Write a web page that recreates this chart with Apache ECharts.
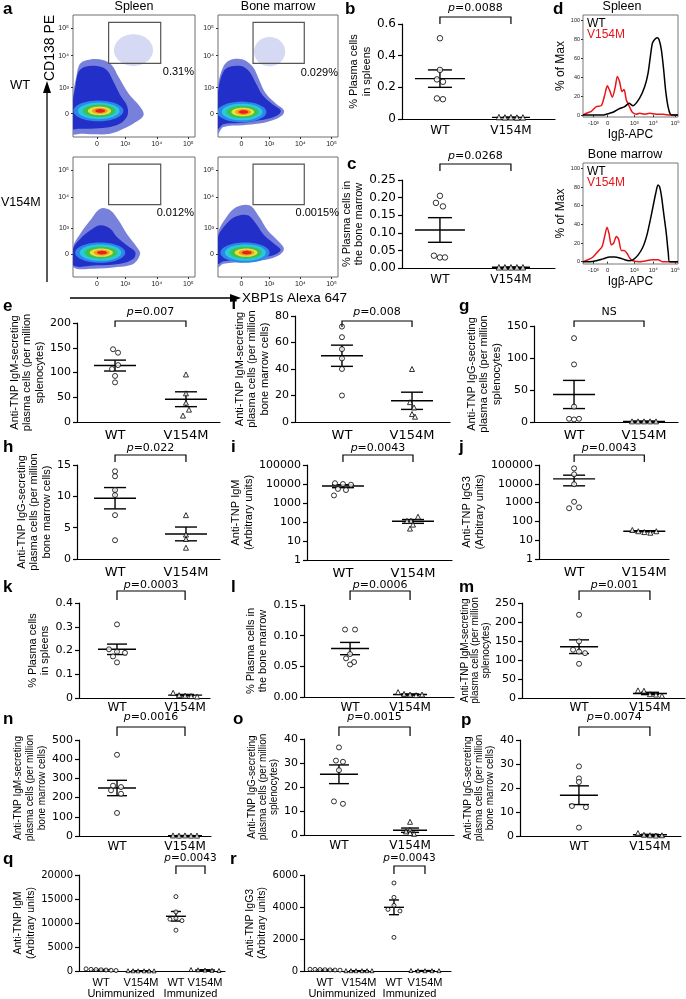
<!DOCTYPE html>
<html>
<head>
<meta charset="utf-8">
<title>Plasma cell figure</title>
<script src="https://cdn.jsdelivr.net/npm/echarts@6/dist/echarts.min.js"></script>
<style>
  html, body { margin: 0; padding: 0; background: #fff; }
  #chart { width: 686px; height: 999px; }
</style>
</head>
<body>
<div id="chart"></div>
<script>
// ---------------- values ----------------
const genotypes = ['WT', 'V154M']
const immunCats = ['WT', 'V154M', 'WT', 'V154M']
const immunGroups = ['Unimmunized', 'Immunized']

// b: % plasma cells in spleens
const bWT = [0.51, 0.31, 0.25, 0.235, 0.13, 0.125]
const bMut = [0.012, 0.01, 0.011, 0.009, 0.01]
const bMean = [0.255, 0.01]
const bSem = [0.055, 0.002]
// c: % plasma cells in bone marrow
const cWT = [0.205, 0.185, 0.175, 0.035, 0.03, 0.03]
const cMut = [0.002, 0.002, 0.002, 0.002, 0.002]
const cMean = [0.108, 0.002]
const cSem = [0.035, 0.0004]
// e: anti-TNP IgM ASC, spleen
const eWT = [147, 140, 115, 107, 93, 80]
const eMut = [96, 58, 39, 25, 13]
const eMean = [114, 46]
const eSem = [11, 15]
// f: anti-TNP IgM ASC, bone marrow
const fWT = [72, 64, 55, 48, 40, 20]
const fMut = [40, 15, 11, 6, 4]
const fMean = [50, 16]
const fSem = [8, 6.5]
// g: anti-TNP IgG ASC, spleen
const gWT = [131, 90, 24, 5, 4, 5]
const gMut = [1, 1, 1, 1, 1]
const gMean = [43, 1]
const gSem = [22, 0.3]
// h: anti-TNP IgG ASC, bone marrow
const hWT = [14, 13.2, 11, 10.2, 7, 3]
const hMut = [7, 3.9, 3.2, 1.8]
const hMean = [9.7, 4]
const hSem = [1.7, 1.1]
// i: anti-TNP IgM titre
const iWT = [11000, 10000, 9200, 5500, 4800, 2500]
const iMut = [190, 118, 115, 73, 45]
const iMean = [7800, 110]
const iSem = [1400, 25]
// j: anti-TNP IgG3 titre
const jWT = [66000, 32000, 9500, 1100, 500, 560]
const jMut = [35, 30, 27, 25, 30]
const jMean = [18300, 30]
const jSem = [10500, 2]
// k: % plasma cells in spleens (immunized)
const kWT = [0.31, 0.205, 0.195, 0.19, 0.175, 0.15]
const kMut = [0.022, 0.012, 0.01, 0.008, 0.006]
const kMean = [0.205, 0.012]
const kSem = [0.022, 0.003]
// l: % plasma cells in bone marrow (immunized)
const lWT = [0.11, 0.11, 0.07, 0.063, 0.057, 0.053]
const lMut = [0.008, 0.005, 0.004, 0.003, 0.004]
const lMean = [0.079, 0.004]
const lSem = [0.01, 0.001]
// m: anti-TNP IgM ASC, spleen (immunized)
const mWT = [219, 149, 127, 122, 118, 90]
const mMut = [20, 19, 10, 9, 6]
const mMean = [135, 12]
const mSem = [18, 3]
// n: anti-TNP IgM ASC, bone marrow (immunized)
const nWT = [423, 262, 255, 238, 220, 120]
const nMut = [3, 2, 3, 2, 2]
const nMean = [250, 2]
const nSem = [40, 0.5]
// o: anti-TNP IgG ASC, spleen (immunized)
const oWT = [36.5, 31, 30.5, 27, 14, 13]
const oMut = [5.5, 2.2, 1.5, 0.5, 0.8]
const oMean = [25.3, 2]
const oSem = [3.9, 0.9]
// p: anti-TNP IgG ASC, bone marrow (immunized)
const pWT = [29, 24, 22.5, 12.5, 12, 3.5]
const pMut = [1.2, 0.5, 0.3, 0.2, 0.3]
const pMean = [17, 0.5]
const pSem = [3.9, 0.2]
// q: anti-TNP IgM, unimmunized vs immunized
const qUnWT = [450, 350, 300, 250, 200, 150, 100]
const qUnMut = [60, 50, 40, 40, 30, 30]
const qImWT = [15500, 12300, 11000, 10800, 10500, 8500]
const qImMut = [300, 250, 200, 150, 100]
const qMean = [260, 42, 11400, 200]
const qSem = [45, 5, 1000, 35]
// r: anti-TNP IgG3, unimmunized vs immunized
const rUnWT = [110, 100, 90, 80, 70, 60, 50]
const rUnMut = [20, 20, 20, 20, 20, 20]
const rImWT = [5500, 4600, 4100, 3850, 3750, 2100]
const rImMut = [30, 20, 20, 20, 20]
const rMean = [80, 20, 3980, 22]
const rSem = [8, 1, 460, 2]

// d: Igβ histograms (x in % of plot width, y in % of max)
const histTickPos = [11, 26, 54, 74, 97]
const histTickLabels = ['-10³', '0', '10³', '10⁴', '10⁵']
const spleenHistWT = [[0,0],[21,0],[24.6,1],[31.6,3],[38.6,7],[43.9,9],[47.4,12],[48.4,12.5],[52.6,10],[59.6,18],[64.9,30],[68.4,44],[70.9,62],[73,76],[75.4,80],[77.9,82],[80,80],[82.5,69],[84.9,48],[87,26],[89.5,9],[91.9,1],[94.7,0],[100,0]]
const spleenHistMut = [[0,0],[3.5,2],[8.8,4],[14,9],[19.3,10],[22.8,21],[25.6,31],[28.1,26],[30.9,19],[34,30],[36.1,41],[38.6,35],[41,25],[43.2,27],[45.6,16],[48.4,10],[51.9,3],[56.1,1],[59.6,2],[64.9,1],[70.2,2],[77.2,1],[84.2,1],[91.2,0],[100,0]]
const bmHistWT = [[0,0],[7,0],[14,1],[21,3],[28.1,5],[33.3,5],[38.6,4],[43.9,2],[48.4,1],[52.6,2],[57.9,7],[63.2,16],[67.4,29],[70.9,45],[73.7,59],[76.5,73],[78.9,82],[80.7,80],[82.5,71],[84.9,52],[87.7,30],[89.8,9],[91.2,0],[100,0]]
const bmHistMut = [[0,0],[5.3,2],[10.5,5],[15.8,11],[20,16],[22.8,27],[25.3,37],[27.4,30],[29.8,18],[32.3,20],[35.1,27],[37.5,24],[40.4,12],[43.2,12],[46.3,9],[49.1,4],[52.6,1],[59.6,0],[73.7,2],[78.9,2],[83.5,0],[100,0]]
const histYTicks = [0, 20, 40, 60, 80, 100]

// a: flow density plots (axes in % of plot box)
const flowTickX = [19.6, 42.8, 68.7, 94.6]
const flowTickY = [19.2, 40.5, 66.6, 89]
const flowTickLabels = ['0', '10³', '10⁴', '10⁵']
const gateBox = [29.2, 60.3, 71.9, 94]
const gatePct = ['0.31%', '0.012%', '0.029%', '0.0015%']
const spleenWTOuter = [[0,2.7],[0,32.9],[2.7,49.3],[6,60.3],[14.2,63.6],[25.1,63],[31.9,58.9],[37.3,49.3],[45.5,35.6],[55,24.7],[57.8,17.8],[49.6,11],[41.4,6.8],[30.5,2.7],[16.9,2.2],[6,2.7]]
const spleenWTBlue = [[0,6.8],[0,30.1],[1.9,41.1],[4.6,53.4],[10,57.5],[19.6,58.1],[27.8,54.8],[33.2,45.2],[38.7,34.2],[44.1,26],[44.7,17.8],[38.7,11],[27.8,7.7],[14.2,6.8],[4.6,6.8]]
const spleenWTCore = [20.8, 21.4]
const spleenMutOuter = [[0,8.3],[0,25],[6,36.1],[14.2,47.2],[22.3,56.9],[30.5,55.6],[37.3,47.2],[44.1,36.1],[52.3,25],[55,19.4],[49.6,11.1],[36,8.3],[16.9,6.9]]
const spleenMutBlue = [[0,9.7],[0,23.6],[6,31.9],[14.2,38.9],[22.3,43.1],[30.5,40.3],[36,33.3],[44.1,26.4],[51,20.8],[49.6,15.3],[38.7,11.1],[19.6,9.7]]
const spleenMutCore = [22.3, 20.3]
const bmWTOuter = [[0,2.7],[0,41.1],[4.4,57.5],[9.8,63],[20.8,63.6],[29,57.5],[34.4,46.6],[39.9,35.6],[48.1,27.4],[54.9,21.9],[53.6,17.8],[45.6,13.7],[34.4,11],[20.8,9.6],[4.4,8.2]]
const bmWTBlue = [[0,6.8],[0,37],[4.4,53.4],[9.8,57.5],[19.4,58.1],[26.2,53.4],[31.7,43.8],[37.2,34.2],[45.4,26.8],[52.2,21.9],[50.8,18.6],[42.6,15.1],[31.7,13.2],[18,11.5],[4.4,10.4]]
const bmWTCore = [19.8, 20.5]
const bmMutOuter = [[0,8.3],[0,36.1],[7.1,50],[15.3,58.3],[26.2,59.7],[34.4,50],[41.3,38.9],[49.5,30.6],[54.9,23.6],[50.8,18.1],[39.9,14.4],[23.5,12.5],[4.4,11.1]]
const bmMutBlue = [[0,11.1],[0,33.3],[7.1,44.4],[15.3,50.6],[24.9,51.4],[31.7,44.4],[38.5,34.7],[46.7,27.8],[52.2,22.8],[48.1,18.9],[37.2,16.1],[20.8,14.4],[4.4,13.1]]
const bmMutCore = [22.5, 20.3]
const ringRx = [20.5, 17, 13.5, 9.5, 6.5, 4]
const ringRy = [8.5, 6.8, 5, 3.5, 2.4, 1.5]
const gateCloudWTSpleen = [49.6, 71.2, 16, 13]
const gateCloudWTBM = [43, 70, 13, 12]

// ---------------- styling / layout ----------------
const FA = '"Liberation Sans", Arial, Helvetica, sans-serif'
const FW = '"DejaVu Sans", Verdana, sans-serif'
const densityColors = ['#7780da', '#2230c9', '#2f86e8', '#27c8e2', '#3fc24c', '#eae13b', '#f39b27', '#e4221b']

const grid = [], xAxis = [], yAxis = [], series = [], graphic = []

function addGrid (g, xa, ya) {
  const gi = grid.length
  grid.push(Object.assign({ containLabel: false }, g))
  xa.gridIndex = gi
  ya.gridIndex = gi
  xAxis.push(xa)
  yAxis.push(ya)
  return gi
}

const nearestIdx = (arr, v) => {
  let best = 0
  arr.forEach((a, k) => { if (Math.abs(a - v) < Math.abs(arr[best] - v)) best = k })
  return best
}
const fmtShort = v => (v === 0 ? '0' : String(Math.round(v * 1000) / 1000))
const fmt2 = v => v.toFixed(2)
const fmtInt = v => String(Math.round(v))

// generic scatter-dot panel with mean ± SEM
function dotPanel (P, groups, mean, sem) {
  const labels = P.cats.concat(P.extraLabels || [])
  const labelPos = P.pos.concat(P.extraPos || [])
  const yMin = P.log ? 1 : 0
  const gi = addGrid(
    { left: P.L, top: P.T, width: P.R - P.L, height: P.B - P.T },
    {
      type: 'value', min: 0, max: 1,
      axisLine: { onZero: false, lineStyle: { color: '#000', width: 1.2 } },
      axisTick: { show: false },
      splitLine: { show: false },
      axisLabel: {
        customValues: labelPos,
        formatter: v => labels[nearestIdx(labelPos, v)],
        color: '#000', fontFamily: P.catFamily || FW, fontSize: P.catFont || 12, margin: P.catMargin || 7, lineHeight: P.catLH || 12
      }
    },
    {
      type: P.log ? 'log' : 'value', logBase: 10,
      min: yMin, max: P.max, interval: P.log ? undefined : P.step,
      axisLine: { show: true, onZero: false, lineStyle: { color: '#000', width: 1.2 } },
      axisTick: { show: true, length: 4, lineStyle: { color: '#000', width: 1.2 } },
      splitLine: { show: false },
      axisLabel: { color: '#000', fontFamily: FW, fontSize: P.tickFont || 11, margin: 6, formatter: P.fmt || fmtInt },
      name: P.title, nameLocation: 'middle', nameRotate: 90, nameGap: P.gap,
      nameTextStyle: { color: '#000', fontFamily: FA, fontSize: P.titleFont || 11, lineHeight: P.titleLH || 12.5 }
    }
  )
  groups.forEach((vals, g) => {
    series.push({
      type: 'scatter', xAxisIndex: gi, yAxisIndex: gi, silent: true, z: 4,
      symbol: P.cats[g] === 'WT' ? 'circle' : 'triangle',
      symbolSize: P.sym || 5,
      itemStyle: { color: '#fff', borderColor: '#000', borderWidth: 1 },
      data: vals.map((v, k) => ({ value: [P.pos[g], v], symbolOffset: [(P.jit[g] || [])[k] || 0, 0] }))
    })
  })
  series.push({
    type: 'custom', xAxisIndex: gi, yAxisIndex: gi, silent: true, z: 3,
    data: mean.map((m, g) => [P.pos[g], m, sem[g], g]),
    renderItem: (params, api) => {
      const x = api.value(0), m = api.value(1), s = api.value(2), g = api.value(3)
      const c = api.coord([x, m])
      const hi = api.coord([x, m + s])
      const lo = api.coord([x, Math.max(m - s, P.log ? 1e-6 : -1e9)])
      const hw = P.meanW[g], sw = P.semW[g]
      const st = { stroke: '#000', lineWidth: 1.4 }
      return {
        type: 'group',
        children: [
          { type: 'line', shape: { x1: c[0] - hw, y1: c[1], x2: c[0] + hw, y2: c[1] }, style: st },
          { type: 'line', shape: { x1: c[0], y1: hi[1], x2: c[0], y2: lo[1] }, style: st },
          { type: 'line', shape: { x1: c[0] - sw, y1: hi[1], x2: c[0] + sw, y2: hi[1] }, style: st },
          { type: 'line', shape: { x1: c[0] - sw, y1: lo[1], x2: c[0] + sw, y2: lo[1] }, style: st }
        ]
      }
    }
  })
  const pair = P.brPair || [0, 1]
  series.push({
    type: 'custom', xAxisIndex: gi, yAxisIndex: gi, silent: true, z: 5, clip: false,
    data: [[P.pos[pair[0]], yMin, P.pos[pair[1]]]],
    renderItem: (params, api) => {
      const x1 = api.coord([api.value(0), yMin])[0]
      const x2 = api.coord([api.value(2), yMin])[0]
      const yT = P.T + P.br[0], yD = P.T + P.br[1], yTx = P.T + P.br[2]
      const isP = P.p.indexOf('p=') === 0
      return {
        type: 'group',
        children: [
          { type: 'polyline', shape: { points: [[x1, yD], [x1, yT], [x2, yT], [x2, yD]] }, style: { stroke: '#000', lineWidth: 1.2, fill: null } },
          {
            type: 'text',
            style: {
              text: isP ? '{i|p}' + P.p.slice(1) : P.p,
              x: (x1 + x2) / 2, y: yTx, align: 'center', verticalAlign: 'middle',
              fontFamily: FW, fontSize: P.pFont || 11, fill: '#000',
              rich: { i: { fontStyle: 'italic', fontFamily: FW, fontSize: P.pFont || 11, fill: '#000' } }
            }
          }
        ]
      }
    }
  })
}

// flow density plot panel
function flowPanel (box, outer, blue, core, cloud) {
  const gi = addGrid(
    { left: box[0], top: box[1], width: box[2], height: box[3], show: true, borderColor: '#6e6e6e', borderWidth: 1 },
    {
      type: 'value', min: 0, max: 100, axisLine: { show: false }, splitLine: { show: false },
      axisTick: { show: true, customValues: flowTickX, length: 2, lineStyle: { color: '#333' } },
      axisLabel: { customValues: flowTickX, formatter: v => flowTickLabels[nearestIdx(flowTickX, v)], fontFamily: FA, fontSize: 7, color: '#222', margin: 4 }
    },
    {
      type: 'value', min: 0, max: 100, axisLine: { show: false }, splitLine: { show: false },
      axisTick: { show: true, customValues: flowTickY, length: 2, lineStyle: { color: '#333' } },
      axisLabel: { customValues: flowTickY, formatter: v => flowTickLabels[nearestIdx(flowTickY, v)], fontFamily: FA, fontSize: 7, color: '#222', margin: 4 }
    }
  )
  series.push({
    type: 'custom', xAxisIndex: gi, yAxisIndex: gi, silent: true, clip: true,
    data: [[50, 50]],
    renderItem: (params, api) => {
      const pts = arr => arr.map(p => api.coord(p))
      const ell = (cx, cy, rx, ry) => {
        const out = []
        for (let t = 0; t < 40; t++) {
          const a = t / 40 * Math.PI * 2
          out.push(api.coord([cx + rx * Math.cos(a), cy + ry * Math.sin(a)]))
        }
        return out
      }
      const children = []
      if (cloud) children.push({ type: 'polygon', shape: { points: ell(cloud[0], cloud[1], cloud[2], cloud[3]), smooth: 0.3 }, style: { fill: '#d6d9f3' } })
      children.push({ type: 'polygon', shape: { points: pts(outer), smooth: 0.35 }, style: { fill: densityColors[0] } })
      children.push({ type: 'polygon', shape: { points: pts(blue), smooth: 0.35 }, style: { fill: densityColors[1] } })
      ringRx.forEach((rx, k) => {
        children.push({ type: 'polygon', shape: { points: ell(core[0] + k * 0.3, core[1], rx, ringRy[k]) }, style: { fill: densityColors[k + 2] } })
      })
      const a = api.coord([gateBox[0], gateBox[3]])
      const b = api.coord([gateBox[2], gateBox[1]])
      children.push({ type: 'rect', shape: { x: a[0], y: a[1], width: b[0] - a[0], height: b[1] - a[1] }, style: { fill: null, stroke: '#555', lineWidth: 1.2 } })
      return { type: 'group', children }
    }
  })
}

// histogram panel
function histPanel (box, yMin, yMax, wt, mut) {
  const gi = addGrid(
    { left: box[0], top: box[1], width: box[2], height: box[3], show: true, borderColor: '#777', borderWidth: 1 },
    {
      type: 'value', min: 0, max: 100, axisLine: { show: false }, splitLine: { show: false },
      axisTick: { show: true, customValues: histTickPos, length: 2, lineStyle: { color: '#333' } },
      axisLabel: { customValues: histTickPos, formatter: v => histTickLabels[nearestIdx(histTickPos, v)], fontFamily: FA, fontSize: 6, color: '#222', margin: 3 },
      name: 'Igβ-APC', nameLocation: 'middle', nameGap: 12,
      nameTextStyle: { fontFamily: FA, fontSize: 12, color: '#000' }
    },
    {
      type: 'value', min: yMin, max: yMax, axisLine: { show: false }, splitLine: { show: false },
      axisTick: { show: true, customValues: histYTicks, length: 2, lineStyle: { color: '#333' } },
      axisLabel: { customValues: histYTicks, fontFamily: FA, fontSize: 5.5, color: '#222', margin: 3 },
      name: '% of Max', nameLocation: 'middle', nameRotate: 90, nameGap: 12,
      nameTextStyle: { fontFamily: FA, fontSize: 12, color: '#000' }
    }
  )
  ;[[wt, '#000'], [mut, '#e8141a']].forEach(([d, col]) => {
    series.push({
      type: 'line', xAxisIndex: gi, yAxisIndex: gi, silent: true, showSymbol: false, symbol: 'none',
      smooth: 0.25, data: d, lineStyle: { color: col, width: 1.5 }, z: col === '#000' ? 3 : 2
    })
  })
}

// ---------- panel a ----------
flowPanel([73, 15, 122, 122], spleenWTOuter, spleenWTBlue, spleenWTCore, gateCloudWTSpleen)
flowPanel([73, 157, 122, 120], spleenMutOuter, spleenMutBlue, spleenMutCore, null)
flowPanel([218, 15, 120, 122], bmWTOuter, bmWTBlue, bmWTCore, gateCloudWTBM)
flowPanel([218, 157, 120, 120], bmMutOuter, bmMutBlue, bmMutCore, null)

// ---------- panel d ----------
histPanel([583, 15, 95, 102], -2, 106, spleenHistWT, spleenHistMut)
histPanel([583, 163, 95, 101], -2.5, 105.7, bmHistWT, bmHistMut)

// ---------- dot panels ----------
const sprd5 = [-12, -6, 0, 6, 12]
const meanWide = [25, 19], semWide = [12, 8]
const meanStd = [21, 21], semStd = [11, 11]
const meanK = [19, 17], semK = [10, 9]

dotPanel({ L: 402, R: 555, T: 24, B: 119, pos: [0.248, 0.712], cats: genotypes, max: 0.6, step: 0.2, fmt: fmtShort,
  title: '% Plasma cells\nin spleens', gap: 22, tickFont: 12, catFont: 12, catMargin: 6, sym: 5.5,
  jit: [[0, 0, -3, 3, -3, 3], sprd5], meanW: meanWide, semW: semWide, br: [-7, 0, -16], p: 'p=0.0088' },
[bWT, bMut], bMean, bSem)

dotPanel({ L: 402, R: 555, T: 180, B: 268, pos: [0.248, 0.712], cats: genotypes, max: 0.25, step: 0.05, fmt: fmt2,
  title: '% Plasma cells in\nthe bone marrow', gap: 22, tickFont: 12, catFont: 12, catMargin: 6, sym: 5.5,
  jit: [[0, -4, 3, -6, 0, 5], sprd5], meanW: meanWide, semW: semWide, br: [-16, -9, -24], p: 'p=0.0268' },
[cWT, cMut], cMean, cSem)

dotPanel({ L: 77, R: 220, T: 323, B: 422, pos: [0.266, 0.762], cats: genotypes, max: 200, step: 50,
  title: 'Anti-TNP IgM-secreting\nplasma cells (per million\nsplenocytes)', gap: 22, catFont: 13, catMargin: 8,
  jit: [[-2, 3, 3, -3, 0, 0], [0, 0, 0, 3, -3]], meanW: meanStd, semW: semStd, br: [-2, 4, -11], p: 'p=0.007' },
[eWT, eMut], eMean, eSem)

dotPanel({ L: 295, R: 450, T: 316, B: 422, pos: [0.303, 0.755], cats: genotypes, max: 80, step: 20,
  title: 'Anti-TNP IgM-secreting\nplasma cells (per million\nbone marrow cells)', gap: 12, catFont: 13, catMargin: 8,
  jit: [[0, 0, 0, 0, 0, 0], [0, -2, 2, 0, 3]], meanW: meanStd, semW: semStd, br: [5, 11, -4], p: 'p=0.008' },
[fWT, fMut], fMean, fSem)

dotPanel({ L: 534, R: 678, T: 326, B: 422, pos: [0.278, 0.764], cats: genotypes, max: 150, step: 50,
  title: 'Anti-TNP IgG-secreting\nplasma cells (per million\nsplenocytes)', gap: 20, catFont: 13, catMargin: 8,
  jit: [[0, 0, 0, -5, 0, 5], sprd5], meanW: meanStd, semW: semStd, br: [-5, 1, -14], p: 'NS' },
[gWT, gMut], gMean, gSem)

dotPanel({ L: 77, R: 220, T: 465, B: 559, pos: [0.266, 0.762], cats: genotypes, max: 15, step: 5,
  title: 'Anti-TNP IgG-secreting\nplasma cells (per million\nbone marrow cells)', gap: 22, catFont: 13, catMargin: 8,
  jit: [[0, 0, 0, 0, 0, 0], [0, 0, 0, 0]], meanW: meanStd, semW: semStd, br: [-10, -3, -17], p: 'p=0.022' },
[hWT, hMut], hMean, hSem)

dotPanel({ L: 307, R: 452, T: 465, B: 560, pos: [0.248, 0.731], cats: genotypes, log: true, max: 100000, fmt: v => String(v),
  title: 'Anti-TNP IgM\n(Arbitrary units)', gap: 50, catFont: 13, catMargin: 8,
  jit: [[-8, 0, 8, -5, 3, -9], [5, -2, -6, 0, -3]], meanW: meanStd, semW: semStd, br: [-10, -3, -17], p: 'p=0.0043' },
[iWT, iMut], iMean, iSem)

dotPanel({ L: 539, R: 669, T: 465, B: 559, pos: [0.27, 0.81], cats: genotypes, log: true, max: 100000, fmt: v => String(v),
  title: 'Anti-TNP IgG3\n(Arbitrary units)', gap: 53, catFont: 13, catMargin: 8,
  jit: [[0, 0, 0, 0, -5, 5], sprd5], meanW: meanStd, semW: semStd, br: [-10, -3, -17], p: 'p=0.0043' },
[jWT, jMut], jMean, jSem)

dotPanel({ L: 79, R: 210, T: 603, B: 698, pos: [0.29, 0.81], cats: genotypes, max: 0.4, step: 0.1, fmt: fmtShort,
  title: '% Plasma cells\nin spleens', gap: 23, catFont: 12, catMargin: 4,
  jit: [[0, -8, 0, 8, -4, 0], sprd5], meanW: meanK, semW: semK, br: [-12, -3, -18], p: 'p=0.0003' },
[kWT, kMut], kMean, kSem)

dotPanel({ L: 304, R: 454, T: 605, B: 697, pos: [0.307, 0.707], cats: genotypes, max: 0.15, step: 0.05, fmt: fmt2,
  title: '% Plasma cells in\nthe bone marrow', gap: 25, catFont: 12, catMargin: 5,
  jit: [[-5, 5, 0, -4, 4, 0], sprd5], meanW: meanK, semW: semK, br: [-14, -5, -20], p: 'p=0.0006' },
[lWT, lMut], lMean, lSem)

dotPanel({ L: 522, R: 685, T: 603, B: 698, pos: [0.35, 0.785], cats: genotypes, max: 250, step: 50,
  title: 'Anti-TNP IgM-secreting\nplasma cells (per million\nsplenocytes)', gap: 17, titleFont: 10, titleLH: 10.5, catFont: 12, catMargin: 4,
  jit: [[0, 0, -6, 0, 6, 0], sprd5], meanW: meanK, semW: semK, br: [-12, -3, -18], p: 'p=0.001' },
[mWT, mMut], mMean, mSem)

dotPanel({ L: 79, R: 211, T: 740, B: 836, pos: [0.288, 0.803], cats: genotypes, max: 500, step: 100,
  title: 'Anti-TNP IgM-secreting\nplasma cells (per million\nbone marrow cells)', gap: 26, titleFont: 10, titleLH: 12, catFont: 12, catMargin: 5,
  jit: [[0, -4, 4, -6, 4, 0], sprd5], meanW: meanK, semW: semK, br: [-13, -4, -23], p: 'p=0.0016' },
[nWT, nMut], nMean, nSem)

dotPanel({ L: 304, R: 454, T: 739, B: 835, pos: [0.233, 0.707], cats: genotypes, max: 40, step: 10,
  title: 'Anti-TNP IgG-secreting\nplasma cells (per million\nsplenocytes)', gap: 22, titleFont: 10, titleLH: 11, catFont: 12, catMargin: 5,
  jit: [[0, -3, 4, 0, -5, 4], [0, 0, -4, 4, 0]], meanW: meanK, semW: semK, br: [-12, -3, -22], p: 'p=0.0015' },
[oWT, oMut], oMean, oSem)

dotPanel({ L: 520, R: 681, T: 740, B: 836, pos: [0.366, 0.807], cats: genotypes, max: 40, step: 10,
  title: 'Anti-TNP IgG-secreting\nplasma cells (per million\nbone marrow cells)', gap: 13, titleFont: 10, titleLH: 11, catFont: 12, catMargin: 5,
  jit: [[0, 0, 0, -7, 7, 0], sprd5], meanW: meanK, semW: semK, br: [-13, -4, -23], p: 'p=0.0074' },
[pWT, pMut], pMean, pSem)

const groupMid = (a, b) => (a + b) / 2
const qPos = [0.151, 0.425, 0.664, 0.863]
const rPos = [0.143, 0.374, 0.612, 0.823]
dotPanel({ L: 79, R: 225, T: 875, B: 972, pos: qPos, cats: immunCats, max: 20000, step: 5000,
  extraPos: [groupMid(qPos[0], qPos[1]), groupMid(qPos[2], qPos[3])], extraLabels: immunGroups.map(s => '\n' + s),
  title: 'Anti-TNP IgM\n(Arbitrary units)', gap: 41, titleFont: 10.5, tickFont: 10, catFamily: FA, catFont: 11, catMargin: 6, catLH: 11, sym: 4,
  jit: [[-15, -10, -5, 0, 5, 10, 15], [-13, -8, -3, 3, 8, 13], [0, 0, 0, -6, 6, 0], [-14, -7, 0, 7, 14]],
  meanW: [10, 10, 10, 10], semW: [5, 5, 5, 5], brPair: [2, 3], br: [-9, -1, -17], p: 'p=0.0043', pFont: 10.5 },
[qUnWT, qUnMut, qImWT, qImMut], qMean, qSem)

dotPanel({ L: 304, R: 451, T: 875, B: 972, pos: rPos, cats: immunCats, max: 6000, step: 2000,
  extraPos: [groupMid(rPos[0], rPos[1]), groupMid(rPos[2], rPos[3])], extraLabels: immunGroups.map(s => '\n' + s),
  title: 'Anti-TNP IgG3\n(Arbitrary units)', gap: 30, titleFont: 10.5, tickFont: 10, catFamily: FA, catFont: 11, catMargin: 6, catLH: 11, sym: 4,
  jit: [[-15, -10, -5, 0, 5, 10, 15], [-13, -8, -3, 3, 8, 13], [0, 0, 0, -6, 6, 0], [-14, -7, 0, 7, 14]],
  meanW: [10, 10, 10, 10], semW: [5, 5, 5, 5], brPair: [2, 3], br: [-9, -1, -17], p: 'p=0.0043', pFont: 10.5 },
[rUnWT, rUnMut, rImWT, rImMut], rMean, rSem)

// ---------- free text, arrows, letters ----------
const txt = (text, x, y, o = {}) => ({
  type: 'text', x, y, rotation: o.rot || 0, silent: true,
  style: {
    text, fill: o.color || '#000', fontFamily: o.family || FA, fontSize: o.size || 12, fontWeight: o.weight || 'normal',
    align: o.align || 'center', textAlign: o.align || 'center', verticalAlign: 'middle', textVerticalAlign: 'middle'
  }
})
const panelLetters = [['a', 3, 9], ['b', 345, 9], ['c', 347, 164], ['d', 553, 9], ['e', 3, 306], ['f', 231, 304], ['g', 459, 306],
  ['h', 3, 447], ['i', 231, 447], ['j', 459, 447], ['k', 3, 587], ['l', 231, 587], ['m', 459, 587],
  ['n', 3, 719], ['o', 233, 719], ['p', 461, 720], ['q', 3, 859], ['r', 230, 859]]
panelLetters.forEach(([t, x, y]) => graphic.push(txt(t, x, y, { size: 17, weight: 'bold', align: 'left' })))

graphic.push(txt('Spleen', 134, 7, { size: 12.5 }))
graphic.push(txt('Bone marrow', 278, 7, { size: 12.5 }))
graphic.push(txt('WT', 20, 85, { size: 13 }))
graphic.push(txt('V154M', 1, 203, { size: 12.5, align: 'left' }))
graphic.push(txt('CD138 PE', 50, 48, { size: 14, rot: Math.PI / 2 }))
graphic.push(txt('XBP1s Alexa 647', 242, 298, { size: 13.5, align: 'left' }))
graphic.push(txt(gatePct[0], 194, 72, { size: 11, align: 'right' }))
graphic.push(txt(gatePct[1], 194, 213, { size: 11, align: 'right' }))
graphic.push(txt(gatePct[2], 338, 73, { size: 11, align: 'right' }))
graphic.push(txt(gatePct[3], 339, 213, { size: 11, align: 'right' }))
graphic.push({ type: 'line', silent: true, shape: { x1: 47, y1: 282, x2: 47, y2: 90 }, style: { stroke: '#000', lineWidth: 1.3 } })
graphic.push({ type: 'polygon', silent: true, shape: { points: [[47, 81], [43, 93], [51, 93]] }, style: { fill: '#000' } })
graphic.push({ type: 'line', silent: true, shape: { x1: 70, y1: 298, x2: 232, y2: 298 }, style: { stroke: '#000', lineWidth: 1.3 } })
graphic.push({ type: 'polygon', silent: true, shape: { points: [[241, 298], [230, 294], [230, 302]] }, style: { fill: '#000' } })

graphic.push(txt('Spleen', 622, 7, { size: 12.5 }))
graphic.push(txt('Bone marrow', 625, 155, { size: 12.5 }))
graphic.push(txt('WT', 587, 24, { size: 12, align: 'left' }))
graphic.push(txt('V154M', 587, 35, { size: 12, align: 'left', color: '#e8141a' }))
graphic.push(txt('WT', 587, 172, { size: 12, align: 'left' }))
graphic.push(txt('V154M', 587, 183, { size: 12, align: 'left', color: '#e8141a' }))

const chart = echarts.init(document.getElementById('chart'))
chart.setOption({
  animation: false,
  backgroundColor: '#fff',
  grid, xAxis, yAxis, series, graphic
})
</script>
</body>
</html>
